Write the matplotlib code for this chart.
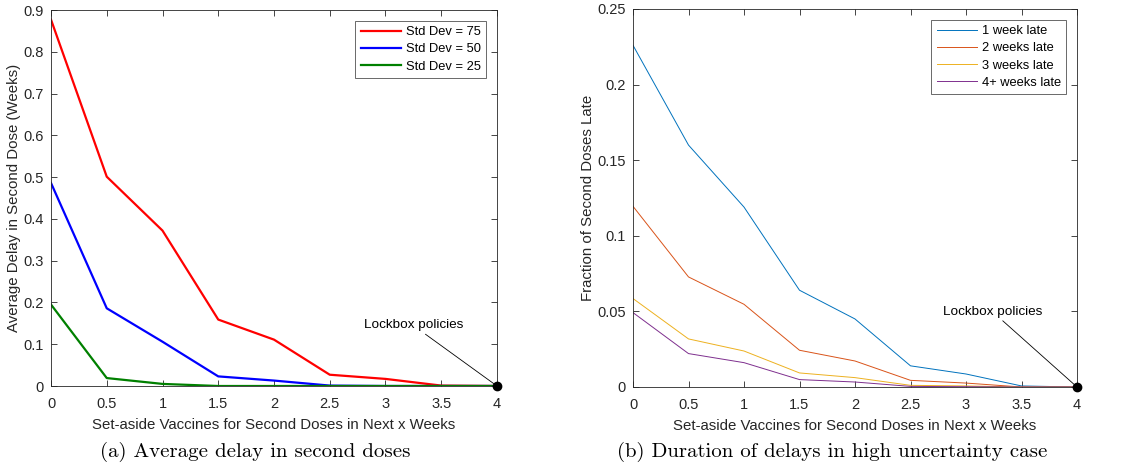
import numpy as np
import matplotlib
matplotlib.use("Agg")
import matplotlib.pyplot as plt

plt.rcParams['font.family'] = ['Liberation Sans', 'DejaVu Sans']

# set-aside weeks
x = [0, 0.5, 1, 1.5, 2, 2.5, 3, 3.5, 4]

# (a) average delay in second dose (weeks)
sd75 = [0.877, 0.501, 0.372, 0.159, 0.111, 0.027, 0.017, 0.001, 0.0]
sd50 = [0.486, 0.186, 0.106, 0.023, 0.013, 0.001, 0.0, 0.0, 0.0]
sd25 = [0.195, 0.019, 0.005, 0.0, 0.0, 0.0, 0.0, 0.0, 0.0]
left_labels = ['Std Dev = 75', 'Std Dev = 50', 'Std Dev = 25']

# (b) fraction of second doses late
late1 = [0.226, 0.160, 0.119, 0.064, 0.045, 0.014, 0.0086, 0.0007, 0.0]
late2 = [0.1195, 0.0728, 0.0547, 0.0243, 0.0172, 0.0044, 0.0026, 0.0, 0.0]
late3 = [0.0585, 0.0318, 0.0238, 0.0093, 0.0062, 0.0011, 0.0007, 0.0, 0.0]
late4 = [0.0492, 0.0221, 0.0161, 0.0049, 0.0033, 0.0004, 0.0002, 0.0, 0.0]
right_labels = ['1 week late', '2 weeks late', '3 weeks late', '4+ weeks late']

xticks = [0, 0.5, 1, 1.5, 2, 2.5, 3, 3.5, 4]
xticklabels = ['0', '0.5', '1', '1.5', '2', '2.5', '3', '3.5', '4']

fig = plt.figure(figsize=(11.23, 4.67), dpi=100)
ax1 = fig.add_axes([51/1123, 1-386/467, 446/1123, 376/467])
ax2 = fig.add_axes([633/1123, 1-387/467, 444/1123, 378/467])

fs = 10.5
lfs = 9.3
axcol = '#262626'


def style(ax):
    ax.set_xlim(0, 4)
    ax.set_xticks(xticks)
    ax.set_xticklabels(xticklabels)
    ax.tick_params(direction='in', top=True, right=True, labelsize=fs,
                   colors=axcol, labelcolor=axcol, length=4, width=0.6, pad=5)
    ax.tick_params(axis='x', pad=8)
    for s in ax.spines.values():
        s.set_color(axcol)
        s.set_linewidth(0.6)
    ax.set_xlabel('Set-aside Vaccines for Second Doses in Next x Weeks',
                  fontsize=10.8, color=axcol, labelpad=5)


# left panel
ax1.plot(x, sd75, color='red', lw=1.6, label=left_labels[0])
ax1.plot(x, sd50, color='blue', lw=1.6, label=left_labels[1])
ax1.plot(x, sd25, color='#008000', lw=1.6, label=left_labels[2])
ax1.set_ylim(0, 0.9)
ax1.set_yticks(np.arange(0, 0.91, 0.1))
ax1.set_yticklabels(['0', '0.1', '0.2', '0.3', '0.4', '0.5', '0.6', '0.7', '0.8', '0.9'])
style(ax1)
ax1.set_ylabel('Average Delay in Second Dose (Weeks)', fontsize=10.8, color=axcol, labelpad=2)
leg = ax1.legend(loc='upper right', fontsize=lfs, fancybox=False, edgecolor=axcol,
                 handlelength=3.1, borderaxespad=0.85, labelspacing=0.4,
                 borderpad=0.4, handletextpad=0.4)
leg.get_frame().set_linewidth(0.6)
ax1.plot([4], [0], 'o', color='black', ms=6, clip_on=False, zorder=5)
ax1.annotate('Lockbox policies', xy=(4, 0), xytext=(3.695, 0.145),
             ha='right', va='center', fontsize=9.7,
             arrowprops=dict(arrowstyle='-', color='black', lw=0.6, shrinkA=0, shrinkB=0))

# right panel
ax2.plot(x, late1, color='#0072BD', lw=0.7, label=right_labels[0])
ax2.plot(x, late2, color='#D95319', lw=0.7, label=right_labels[1])
ax2.plot(x, late3, color='#EDB120', lw=0.7, label=right_labels[2])
ax2.plot(x, late4, color='#7E2F8E', lw=0.7, label=right_labels[3])
ax2.set_ylim(0, 0.25)
ax2.set_yticks([0, 0.05, 0.1, 0.15, 0.2, 0.25])
ax2.set_yticklabels(['0', '0.05', '0.1', '0.15', '0.2', '0.25'])
style(ax2)
ax2.set_ylabel('Fraction of Second Doses Late', fontsize=10.8, color=axcol, labelpad=2)
leg = ax2.legend(loc='upper right', fontsize=lfs, fancybox=False, edgecolor=axcol,
                 handlelength=3.1, borderaxespad=0.85, labelspacing=0.4,
                 borderpad=0.4, handletextpad=0.4)
leg.get_frame().set_linewidth(0.6)
ax2.plot([4], [0], 'o', color='black', ms=6, clip_on=False, zorder=5)
ax2.annotate('Lockbox policies', xy=(4, 0), xytext=(3.69, 0.0496),
             ha='right', va='center', fontsize=9.7,
             arrowprops=dict(arrowstyle='-', color='black', lw=0.6, shrinkA=0, shrinkB=0))

# captions
fig.text(255/1123, 1-452/467, '(a) Average delay in second doses',
         fontsize=15, family='cmr10', ha='center', va='center')
fig.text(832/1123, 1-452/467, '(b) Duration of delays in high uncertainty case',
         fontsize=15, family='cmr10', ha='center', va='center')

fig.savefig('out.png', dpi=100)
